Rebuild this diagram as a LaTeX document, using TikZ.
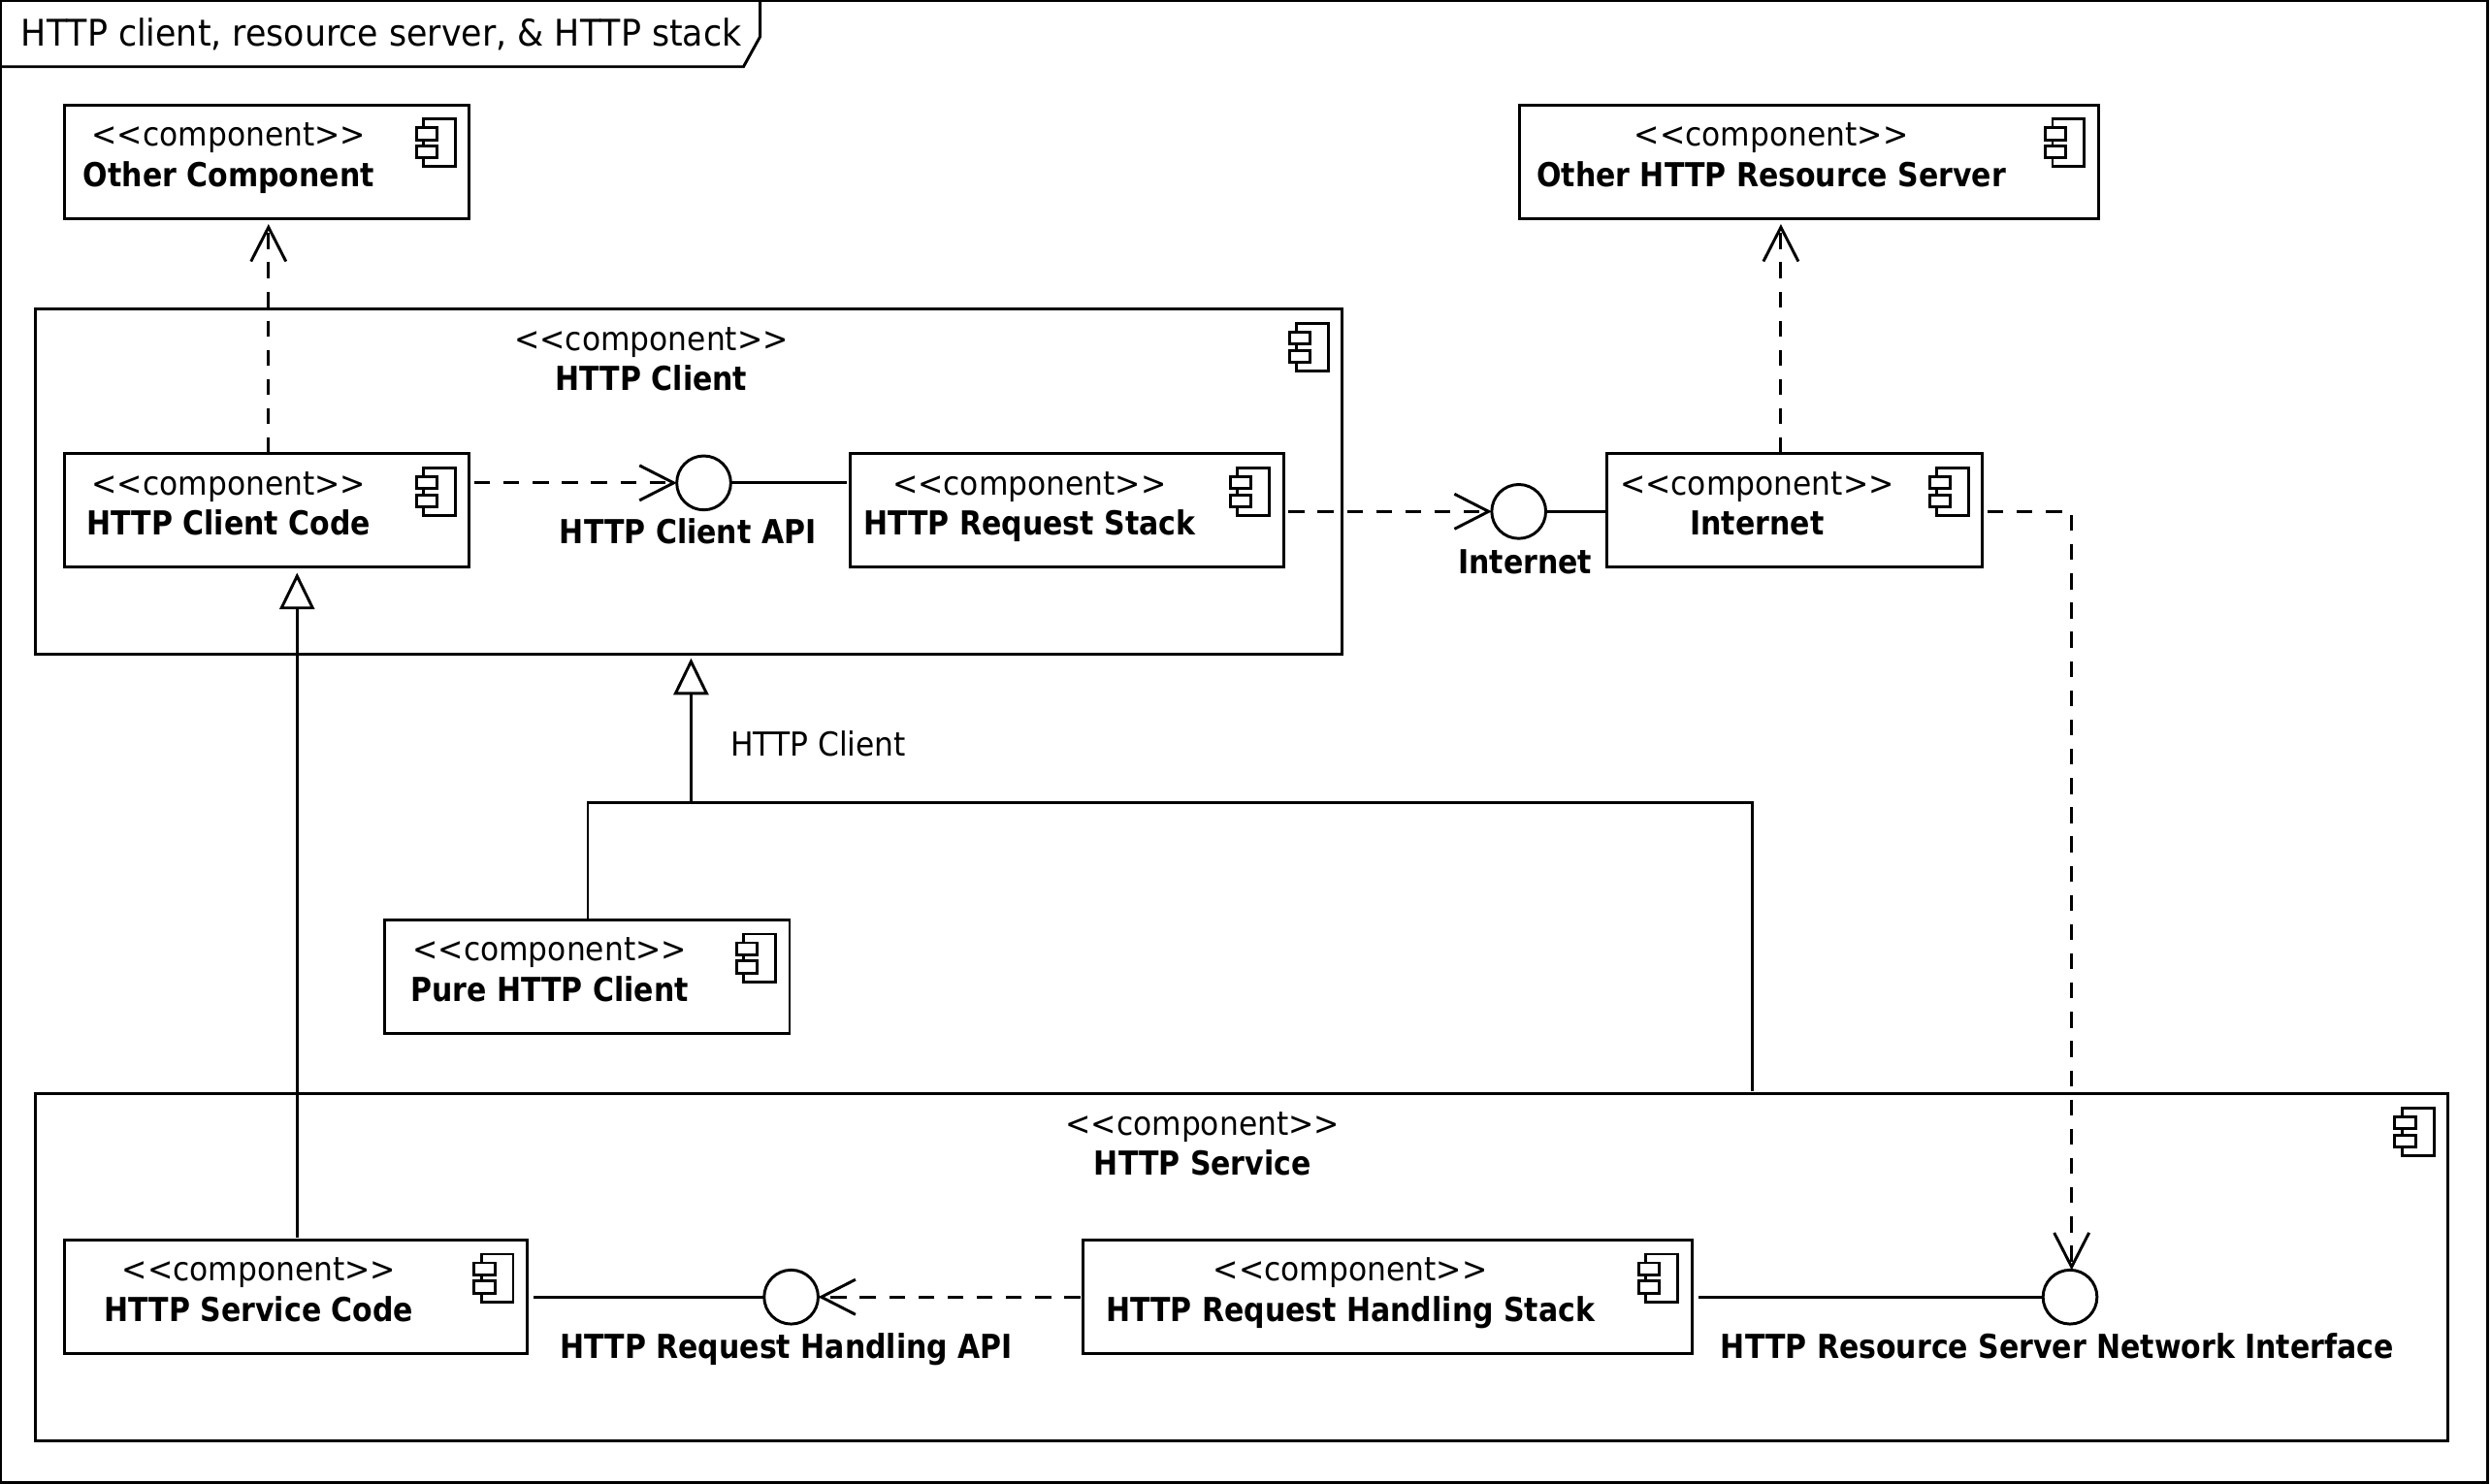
\documentclass[tikz,border=0pt]{standalone}
\usepackage{fontspec}
\setmainfont[FakeStretch=0.92,BoldFeatures={FakeStretch=0.88}]{DejaVu Sans}
\usetikzlibrary{arrows.meta,calc}
\tikzset{
  ln/.style={line width=0.9pt},
  boxn/.style={ln,draw,rectangle,inner sep=0pt,outer sep=0pt},
  stereo/.style={anchor=base,inner sep=0pt,font=\fontsize{10.4}{12}\selectfont},
  titlet/.style={anchor=base,inner sep=0pt,font=\fontsize{10.4}{12}\selectfont\bfseries},
  iface/.style={ln,draw,circle,minimum size=17pt,inner sep=0pt,outer sep=0pt},
  dep/.style={ln,dash pattern=on 5pt off 4.2pt,-{Straight Barb[length=10.75pt,width=11pt,line width=0.9pt]}},
  solidl/.style={ln},
  gen/.style={ln,-{Triangle[open,length=11.5pt,width=11pt,line width=0.9pt]}},
}
\newcommand{\comp}[7]{%
  \pgfmathsetmacro{\cwd}{(#4-#2)*0.5}%
  \pgfmathsetmacro{\cht}{(#5-#3)*0.5}%
  \pgfmathsetmacro{\ccx}{(#2+#4)/2}%
  \pgfmathsetmacro{\ccy}{(#3+#5)/2}%
  \pgfmathsetmacro{\sy}{#3+26.0}%
  \pgfmathsetmacro{\ty}{#3+51.5}%
  \node[boxn,minimum width=\cwd pt,minimum height=\cht pt] (#1) at (\ccx,\ccy) {};
  \node[stereo] (#1-s) at (#6,\sy) {<{}<{}component>{}>};
  \node[titlet] (#1-t) at (#6,\ty) {#7};
  \begin{scope}[shift={(#4,#3)},ln]
    \draw[fill=white] (-29,9) rectangle (-9,39);
    \draw[fill=white] (-33.5,14.5) rectangle (-20.5,22);
    \draw[fill=white] (-33.5,26) rectangle (-20.5,33.5);
  \end{scope}
}
\begin{document}
\begin{tikzpicture}[x=0.5pt,y=-0.5pt]
\useasboundingbox (0,0) rectangle (1568,934.2);
% frame
\coordinate (fa) at (0.5,0.5);
\coordinate (fb) at (1566,933);
\draw[ln] (fa) rectangle (fb);
\draw[ln] (0.5,42) -- (468,42) -- (478.5,23) -- (478.5,0.5);
\node[anchor=base west,inner sep=0pt,font=\fontsize{11.55}{13}\selectfont] (ftitle) at (13,29) {HTTP client, resource server, \& HTTP stack};
% components
\comp{oc}{40.5}{66}{295.5}{137.5}{144}{Other Component}
\comp{ors}{956.5}{66}{1321}{137.5}{1115}{Other HTTP Resource Server}
\comp{hc}{22}{194.5}{845}{412}{410}{HTTP Client}
\comp{hcc}{40.5}{285.5}{295.5}{357}{144}{HTTP Client Code}
\comp{hrs}{535}{285.5}{808}{357}{648}{HTTP Request Stack}
\comp{inet}{1011.5}{285.5}{1248}{357}{1106}{Internet}
\comp{pure}{242}{579}{497}{650.5}{346}{Pure HTTP Client}
\comp{hs}{22}{688.5}{1541}{907}{757}{HTTP Service}
\comp{hsc}{40.5}{780.5}{332}{852}{163}{HTTP Service Code}
\comp{hrh}{682}{780.5}{1065}{852}{850}{HTTP Request Handling Stack}
% interfaces
\node[iface] (api) at (443,304) {};
\node[titlet] (apil) at (433,342) {HTTP Client API};
\node[iface] (inif) at (956,322) {};
\node[titlet] (inifl) at (960,361) {Internet};
\node[iface] (rapi) at (498,816.5) {};
\node[titlet] (rapil) at (495,855) {HTTP Request Handling API};
\node[iface] (nif) at (1303,816.5) {};
\node[titlet] (nifl) at (1295,855) {HTTP Resource Server Network Interface};
% connector guides
\coordinate (g1) at (169,0);
\coordinate (g2) at (1121,0);
\coordinate (g3) at (187,0);
\coordinate (g4) at (370,0);
\coordinate (bend) at (1304,322);
\coordinate (jn) at (435,505.5);
\coordinate (rj) at (1103,505.5);
% connectors
\draw[dep] (hcc.north -| g1) -- ([yshift=-1.8pt]oc.south -| g1);
\draw[dep] (inet.north -| g2) -- ([yshift=-1.8pt]ors.south -| g2);
\draw[dep] ([xshift=1.5pt]hcc.east |- api.west) -- (api.west);
\draw[solidl] (api.east) -- ([xshift=-1pt]hrs.west |- api.east);
\draw[dep] ([xshift=1.5pt]hrs.east |- inif.west) -- (inif.west);
\draw[solidl] (inif.east) -- (inet.west |- inif.east);
\draw[dep] ([xshift=1.5pt]inet.east |- bend) -- (bend) -- (nif.north -| bend);
\draw[dep] ([xshift=-1pt]hrh.west |- rapi.east) -- (rapi.east);
\draw[solidl] ([xshift=2pt]hsc.east |- rapi.west) -- (rapi.west);
\draw[solidl] ([xshift=2pt]hrh.east |- nif.west) -- (nif.west);
\draw[gen] ([yshift=0.75pt]hsc.north -| g3) -- ([yshift=-1.8pt]hcc.south -| g3);
\draw[gen] (jn) -- ([yshift=-1.2pt]hc.south -| jn);
\draw[solidl] ([yshift=0.5pt]pure.north -| g4) -- (jn -| g4) -- (jn);
\draw[solidl] ([yshift=0.75pt]hs.north -| rj) -- (rj) -- (jn);
\node[stereo] (gl) at (515,476) {HTTP Client};
\end{tikzpicture}
\end{document}
